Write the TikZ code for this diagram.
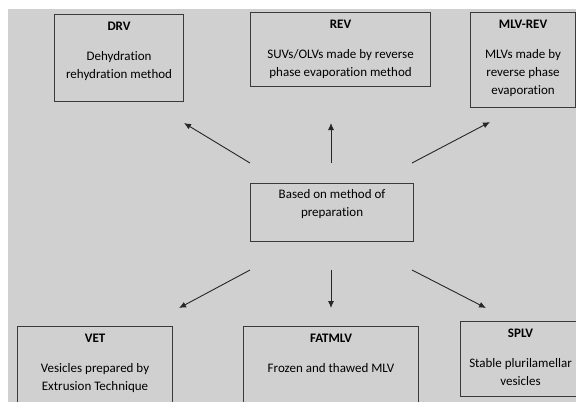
\documentclass[tikz,border=0pt]{standalone}
\usepackage{fontspec}
\setmainfont[Ligatures=NoCommon]{Carlito}
\usetikzlibrary{arrows.meta,calc}
\definecolor{panel}{HTML}{D0D0D0}
\definecolor{edge}{HTML}{3A3A3A}
\tikzset{
  methodbox/.style={draw=edge, line width=1.1bp, fill=none, anchor=north west, inner sep=0pt},
  head/.style={anchor=base, inner sep=0pt, font=\fontsize{13bp}{15bp}\selectfont\bfseries},
  body/.style={anchor=base, inner sep=0pt, font=\fontsize{13bp}{15bp}\selectfont},
  arr/.style={draw=black!85, line width=0.9bp, -{Latex[length=7bp,width=6bp]}}
}
\begin{document}
\begin{tikzpicture}[x=1bp,y=-1bp]
\useasboundingbox (0,0) rectangle (576,401);
\clip (0,0) rectangle (576,401);
\fill[panel] (8,9) rectangle (577,402);

% top row
\node[methodbox, minimum width=129bp, minimum height=87bp] (drv) at (54,14) {};
\node[head] (drvH) at ($(drv.north)+(0,16.4)$) {DRV};
\node[body] (drv1) at ($(drv.north)+(0,46.4)$) {Dehydration};
\node[body] (drv2) at ($(drv.north)+(0,64.4)$) {rehydration method};

\node[methodbox, minimum width=180bp, minimum height=74bp] (rev) at (250,12) {};
\node[head] (revH) at ($(rev.north)+(0,16.4)$) {REV};
\node[body] (rev1) at ($(rev.north)+(0,46.4)$) {SUVs/OLVs made by reverse};
\node[body] (rev2) at ($(rev.north)+(0,64.4)$) {phase evaporation method};

\node[methodbox, minimum width=105bp, minimum height=95bp] (mlv) at (470,12) {};
\node[head] (mlvH) at ($(mlv.north)+(0,16.4)$) {MLV-REV};
\node[body] (mlv1) at ($(mlv.north)+(0,46.4)$) {MLVs made by};
\node[body] (mlv2) at ($(mlv.north)+(0,64.4)$) {reverse phase};
\node[body] (mlv3) at ($(mlv.north)+(0,82.4)$) {evaporation};

% central box
\node[methodbox, minimum width=163bp, minimum height=58bp] (ctr) at (250,183) {};
\node[body] (ctr1) at ($(ctr.north)+(0,15)$) {Based on method of};
\node[body] (ctr2) at ($(ctr.north)+(0,33)$) {preparation};

% bottom row
\node[methodbox, minimum width=155bp, minimum height=80bp] (vet) at (17,326) {};
\node[head] (vetH) at ($(vet.north)+(0,16.4)$) {VET};
\node[body] (vet1) at ($(vet.north)+(0,46.4)$) {Vesicles prepared by};
\node[body] (vet2) at ($(vet.north)+(0,64.4)$) {Extrusion Technique};

\node[methodbox, minimum width=175bp, minimum height=80bp] (fat) at (243,326) {};
\node[head] (fatH) at ($(fat.north)+(0,16.4)$) {FATMLV};
\node[body] (fat1) at ($(fat.north)+(0,46.4)$) {Frozen and thawed MLV};

\node[methodbox, minimum width=120bp, minimum height=75bp] (splv) at (460,321) {};
\node[head] (splvH) at ($(splv.north)+(0,16.4)$) {SPLV};
\node[body] (splv1) at ($(splv.north)+(0,46.4)$) {Stable plurilamellar};
\node[body] (splv2) at ($(splv.north)+(0,64.4)$) {vesicles};

% arrow end points
\coordinate (aDrvS) at (250,163); \coordinate (aDrvE) at (184,123);
\coordinate (aRevS) at (331,163); \coordinate (aRevE) at (331,123);
\coordinate (aMlvS) at (412,163); \coordinate (aMlvE) at (490,122);
\coordinate (aVetS) at (250,270); \coordinate (aVetE) at (179,308);
\coordinate (aFatS) at (331,270); \coordinate (aFatE) at (331,308);
\coordinate (aSplS) at (412,270); \coordinate (aSplE) at (486,308);

\draw[arr] (aDrvS) -- (aDrvE);
\draw[arr] (aRevS) -- (aRevE);
\draw[arr] (aMlvS) -- (aMlvE);
\draw[arr] (aVetS) -- (aVetE);
\draw[arr] (aFatS) -- (aFatE);
\draw[arr] (aSplS) -- (aSplE);
\end{tikzpicture}
\end{document}
